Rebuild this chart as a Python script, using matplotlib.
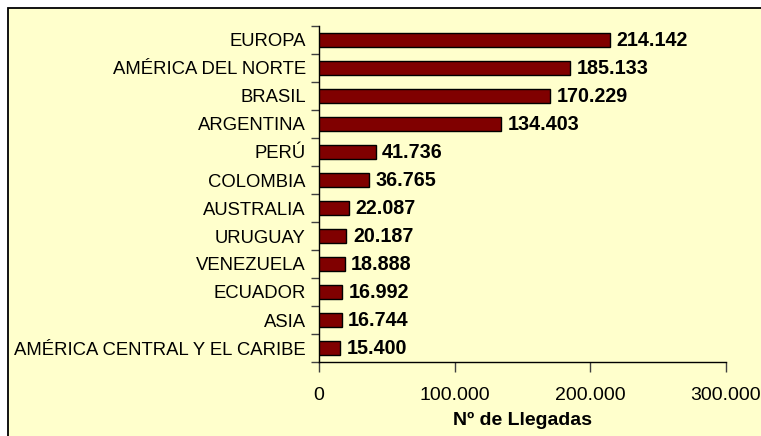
import matplotlib
matplotlib.use('Agg')
import matplotlib.pyplot as plt
from matplotlib.patches import Rectangle
from matplotlib.ticker import FuncFormatter, MultipleLocator

plt.rcParams['font.family'] = ['Liberation Sans', 'DejaVu Sans']

# Datos: llegadas por procedencia
paises = ['EUROPA', 'AMÉRICA DEL NORTE', 'BRASIL', 'ARGENTINA', 'PERÚ',
          'COLOMBIA', 'AUSTRALIA', 'URUGUAY', 'VENEZUELA', 'ECUADOR',
          'ASIA', 'AMÉRICA CENTRAL Y EL CARIBE']
llegadas = [214142, 185133, 170229, 134403, 41736, 36765,
            22087, 20187, 18888, 16992, 16744, 15400]

BG = '#FFFFCC'
BAR = '#800000'


def miles(v, pos=None):
    return f'{int(v):,}'.replace(',', '.')


fig = plt.figure(figsize=(7.61, 4.36), dpi=100)
fig.patch.set_facecolor('white')

# Recuadro de fondo amarillo (se sale por la derecha y abajo)
x0, y0 = 8 / 761, 1 - 8 / 436
fig.patches.append(Rectangle((x0, -0.1), 1.2, y0 + 0.1, transform=fig.transFigure,
                             facecolor=BG, edgecolor='black', linewidth=1.3,
                             zorder=-10))

ax = fig.add_axes([319 / 761, 1 - 362 / 436, (726 - 319) / 761, (362 - 26) / 436])
ax.set_facecolor('none')

pos = list(range(len(paises)))
ax.barh(pos, llegadas, height=0.47, color=BAR, edgecolor='black', linewidth=1.0,
        zorder=3)

for y, v in zip(pos, llegadas):
    ax.text(v + 4800, y, miles(v), va='center', ha='left',
            fontsize=14.2, fontweight='bold', color='black')

ax.set_ylim(len(paises) - 0.5, -0.5)
ax.set_xlim(0, 300000)
ax.xaxis.set_major_locator(MultipleLocator(100000))
ax.xaxis.set_major_formatter(FuncFormatter(miles))

# marcas del eje y entre categorías
ax.set_yticks([p - 0.5 for p in pos] + [len(paises) - 0.5])
ax.set_yticklabels([])
ax.set_yticks(pos, minor=True)
ax.set_yticklabels(paises, minor=True, fontsize=13.3)
ax.tick_params(axis='y', which='minor', length=0, pad=9.5)
ax.tick_params(axis='y', which='major', length=6, width=1, color='#404040')
ax.tick_params(axis='x', length=7, width=1, color='#404040', labelsize=14,
               pad=11)

ax.spines['top'].set_visible(False)
ax.spines['right'].set_visible(False)
ax.spines['left'].set_linewidth(1.0)
ax.spines['bottom'].set_linewidth(1.0)

ax.set_xlabel('Nº de Llegadas', fontsize=14, fontweight='bold', labelpad=6)

fig.savefig('out.png', dpi=100, facecolor=fig.get_facecolor())
